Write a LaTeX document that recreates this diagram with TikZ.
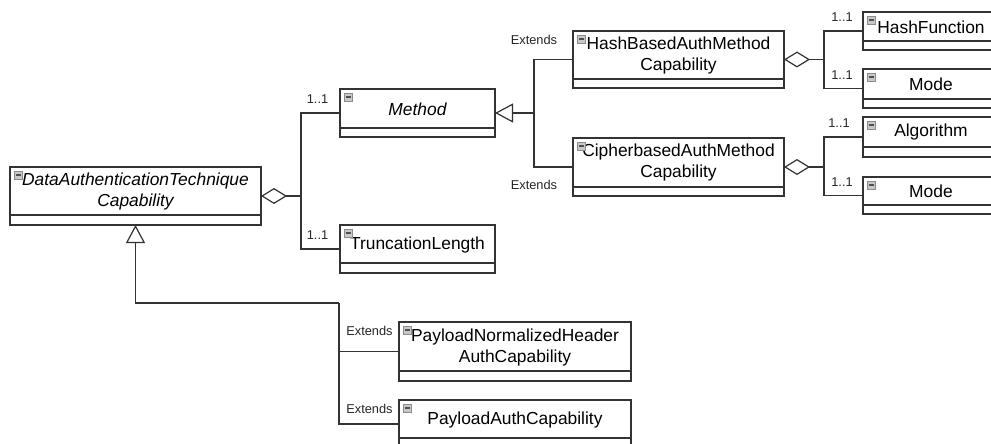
\documentclass[tikz,border=0pt]{standalone}
\usepackage{fontspec}
\setmainfont{Liberation Sans}
\usetikzlibrary{arrows.meta}
\definecolor{ln}{HTML}{333333}
\definecolor{iconfill}{HTML}{C8C8C8}
\definecolor{iconedge}{HTML}{8C8C8C}
\definecolor{icondash}{HTML}{505050}
% #1 name, #2 left, #3 right, #4 top, #5 separator, #6 bottom, #7 text
\newcommand\umlcls[7]{%
  \node[clsbox, minimum width={#3-#2}, minimum height={#6-#4}, anchor=north west] (#1) at (#2,#4) {};
  \draw[line] (#2,#5) -- (#3,#5);
  \node[clstext] (#1-name) at ({(#2+#3)/2},{(#4+#5)/2+0.5}) {#7};
  \filldraw[fill=iconfill, draw=iconedge, line width=0.6pt] ({#2+4.5},{#4+4}) rectangle ({#2+12.5},{#4+12});
  \draw[icondash, line width=1.2pt] ({#2+6.3},{#4+8}) -- ({#2+10.7},{#4+8});
}
\begin{document}
\begin{tikzpicture}[x=1pt,y=-1pt,
  line/.style={draw=ln, line width=1.2pt},
  clsbox/.style={line, rectangle, inner sep=0pt, outer sep=0pt, fill=white},
  clstext/.style={inner sep=0pt, align=center, font=\fontsize{17.4}{21}\selectfont, text=black},
  lbl/.style={inner sep=0pt, font=\fontsize{12.8}{14}\selectfont, text=black!85},
  agg/.style={line, -{Diamond[open, length=26pt, width=16pt]}},
  gen/.style={line, -{Triangle[open, length=18pt, width=19pt]}},
]
\useasboundingbox (0,0) rectangle (991,444);
\clip (0,0) rectangle (991,444);
\fill[white] (0,0) rectangle (991,444);

% classes
\umlcls{dat}{10}{261}{167}{215}{225}{\itshape DataAuthenticationTechnique\\\itshape Capability}
\umlcls{method}{340}{495}{89}{128}{137}{\itshape Method}
\umlcls{trunc}{340}{495}{225}{263}{273}{TruncationLength}
\umlcls{hash}{573}{784}{31}{79}{88}{HashBasedAuthMethod\\Capability}
\umlcls{cipher}{573}{784}{138}{187}{196}{CipherbasedAuthMethod\\Capability}
\umlcls{hashfn}{863}{999}{12}{41}{50}{HashFunction}
\umlcls{modeA}{863}{999}{69}{99}{108}{Mode}
\umlcls{algo}{863}{999}{117}{147}{157}{Algorithm}
\umlcls{modeB}{863}{999}{177}{205}{214}{Mode}
\umlcls{pnh}{399}{631}{322}{371}{381}{PayloadNormalizedHeader\\AuthCapability}
\umlcls{pac}{399}{631}{400}{438}{448}{PayloadAuthCapability}

% junctions
\coordinate (jA) at (301,196);
\coordinate (jG) at (534,113);
\coordinate (jH) at (824,59.5);
\coordinate (jC) at (824,167);
\coordinate (jD) at (339,303);

% aggregations
\draw[agg] (jA) -- (dat.east);
\draw[line] (jA) |- (method.west);
\draw[line] (jA) |- (trunc.west);
\draw[agg] (jH) -- (hash.east);
\draw[line] (jH) |- (hashfn.west);
\draw[line] (jH) |- (modeA.west);
\draw[agg] (jC) -- (cipher.east);
\draw[line] (jC) |- (algo.west);
\draw[line] (jC) |- (modeB.west);

% generalizations
\draw[gen] (jG) -- (method.east);
\draw[line] (jG) |- (hash.west);
\draw[line] (jG) |- (cipher.west);
\draw[gen] (jD) -| (dat.south);
\draw[line] (jD) |- (pnh.west);
\draw[line] (jD) |- (pac.west);

% multiplicities
\node[lbl] (m1) at (317.5,99.5) {1..1};
\node[lbl] (m2) at (317.5,235) {1..1};
\node[lbl] (m3) at (842,17) {1..1};
\node[lbl] (m4) at (842,75) {1..1};
\node[lbl] (m5) at (839,123.5) {1..1};
\node[lbl] (m6) at (842,182) {1..1};

% stereotypes
\node[lbl] (e1) at (534,40) {Extends};
\node[lbl] (e2) at (534,185) {Extends};
\node[lbl] (e3) at (369.5,331) {Extends};
\node[lbl] (e4) at (369.5,409) {Extends};
\end{tikzpicture}
\end{document}
